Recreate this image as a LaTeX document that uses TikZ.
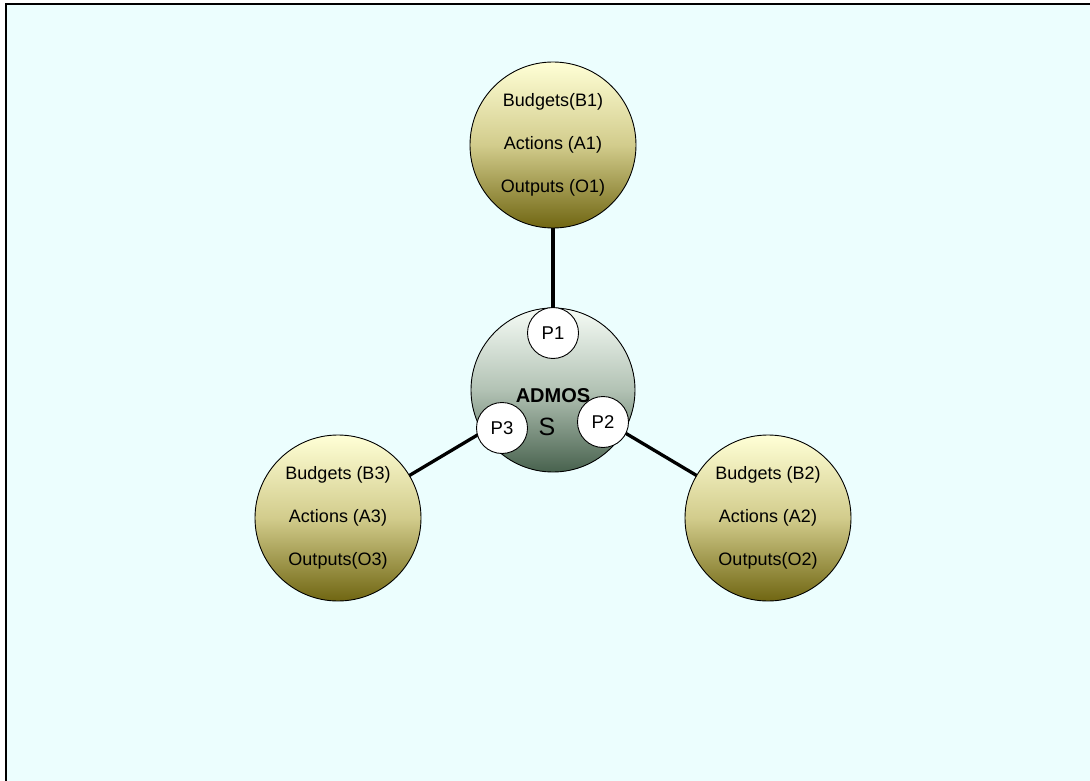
\documentclass[tikz,border=0pt]{standalone}
\usepackage{fontspec}
\setmainfont{Liberation Sans}
\definecolor{bgcyan}{RGB}{236,254,254}
\definecolor{bytop}{RGB}{255,255,214}
\definecolor{bymid}{RGB}{210,204,140}
\definecolor{bybot}{RGB}{112,102,18}
\definecolor{cgtop}{RGB}{246,252,246}
\definecolor{cgmid}{RGB}{178,194,180}
\definecolor{cgbot}{RGB}{72,98,78}
\pgfdeclareverticalshading{byshade}{100bp}{color(0bp)=(bybot); color(25bp)=(bybot); color(50bp)=(bymid); color(75bp)=(bytop); color(100bp)=(bytop)}
\pgfdeclareverticalshading{cgshade}{100bp}{color(0bp)=(cgbot); color(25bp)=(cgbot); color(50bp)=(cgmid); color(75bp)=(cgtop); color(100bp)=(cgtop)}
\tikzset{
  budget/.style={circle, draw=black, line width=0.9pt, minimum size=166pt, inner sep=0pt,
    shading=byshade,
    align=center, font=\fontsize{18}{43}\selectfont},
  centre/.style={circle, draw=black, line width=0.9pt, minimum size=164pt, inner sep=0pt,
    shading=cgshade},
  pnode/.style={circle, draw=black, line width=0.9pt, fill=white, minimum size=51pt, inner sep=0pt,
    font=\fontsize{18.5}{20}\selectfont},
  link/.style={draw=black, line width=3.3pt}
}
\begin{document}
\begin{tikzpicture}[x=1pt,y=-1pt]
\useasboundingbox (0,0) rectangle (1090,781);
\fill[bgcyan] (6,4) rectangle (1090,781);
\coordinate (tl) at (6,781);
\coordinate (tc) at (6,4);
\coordinate (tr) at (1090,4);
\draw[black, line width=1.6pt] (tl) -- (tc) -- (tr);

\coordinate (cC) at (553,390);
\coordinate (c1) at (553,145);
\coordinate (c2) at (768,518);
\coordinate (c3) at (338,518);
\draw[link] (cC) -- (c1);
\draw[link] (cC) -- (c2);
\draw[link] (cC) -- (c3);

\node[budget] (B1) at (c1) {Budgets(B1)\\Actions (A1)\\Outputs (O1)};
\node[budget] (B2) at (c2) {Budgets (B2)\\Actions (A2)\\Outputs(O2)};
\node[budget] (B3) at (c3) {Budgets (B3)\\Actions (A3)\\Outputs(O3)};
\node[centre] (C) at (cC) {};
\node[font=\fontsize{20}{22}\selectfont\bfseries] (admos) at (553,396) {ADMOS};
\node[font=\fontsize{25}{28}\selectfont] (s) at (547,427) {S};
\node[pnode] (P1) at (553,333) {P1};
\node[pnode] (P2) at (603,422) {P2};
\node[pnode] (P3) at (502,428) {P3};
\end{tikzpicture}
\end{document}
